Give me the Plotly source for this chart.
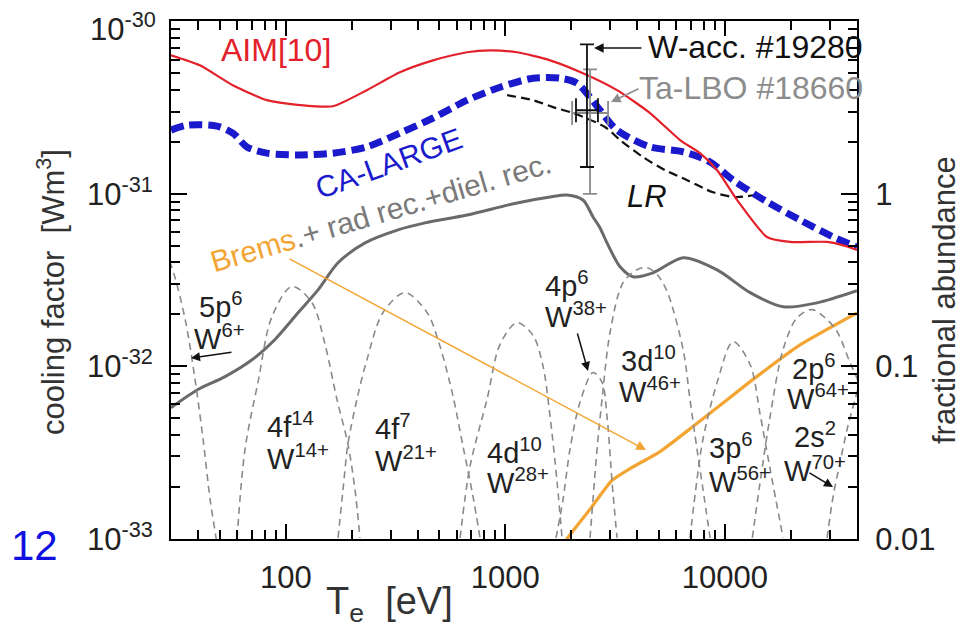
import numpy as np
import plotly.graph_objects as go

# ---------------- data (Te in eV, cooling factor in W m^3, abundances as fractions) -------------
aim_te = [30, 40.6, 57.4, 82, 116, 164, 234, 331, 469, 670, 852, 1131, 1599, 2259, 3228,
          4562, 6252, 7709, 9226, 11380, 15560, 19820, 29240, 35320, 40000]
aim_lz = [6.36e-31, 5.56e-31, 4.26e-31, 3.49e-31, 3.27e-31, 3.22e-31, 3.99e-31, 5.07e-31,
          5.94e-31, 6.62e-31, 6.79e-31, 6.62e-31, 5.94e-31, 5.00e-31, 3.99e-31, 2.94e-31,
          2.05e-31, 1.72e-31, 1.37e-31, 9.2e-32, 5.62e-32, 5.26e-32, 5.26e-32, 4.99e-32, 4.73e-32]

ca_te = [30, 35.5, 48.6, 57.4, 66.5, 82, 116, 164, 234, 331, 469, 670, 946, 1337, 1774, 2121,
         2432, 2702, 3228, 4562, 6457, 8570, 10910, 15560, 21980, 31140, 40000]
ca_lz = [2.34e-31, 2.50e-31, 2.47e-31, 2.25e-31, 1.87e-31, 1.72e-31, 1.68e-31, 1.72e-31,
         1.87e-31, 2.25e-31, 2.75e-31, 3.49e-31, 4.15e-31, 4.68e-31, 4.68e-31, 4.38e-31,
         3.63e-31, 3.05e-31, 2.34e-31, 1.87e-31, 1.75e-31, 1.53e-31, 1.20e-31, 8.98e-32,
         7.05e-32, 5.62e-32, 4.92e-32]

lr_te = [1019, 1337, 1648, 2034, 2845, 3333, 4246, 5347, 6734, 8838, 11140, 13740]
lr_lz = [3.73e-31, 3.49e-31, 3.18e-31, 2.94e-31, 2.44e-31, 2.05e-31, 1.63e-31, 1.37e-31,
         1.20e-31, 1.02e-31, 9.57e-32, 9.84e-32]

tot_te = [30, 39.8, 52.9, 70.2, 89.3, 113.7, 140.3, 173, 229.6, 324.6, 430.5, 670, 1131, 1599,
          1911, 2259, 2510, 2702, 2906, 3333, 3818, 4713, 6457, 9226, 13040, 18420, 26300, 40000]
tot_lz = [5.75e-33, 7.33e-33, 8.71e-33, 1.09e-32, 1.43e-32, 2.04e-32, 2.77e-32, 3.98e-32,
          5.19e-32, 6.18e-32, 6.78e-32, 7.53e-32, 8.85e-32, 9.57e-32, 9.84e-32, 9.20e-32,
          7.34e-32, 6.34e-32, 5.19e-32, 3.77e-32, 3.30e-32, 3.48e-32, 4.26e-32, 3.62e-32,
          2.67e-32, 2.21e-32, 2.33e-32, 2.74e-32]

brems_te = [1832, 1911, 2432, 3064, 3700, 5070, 7160, 13040, 22000, 40000]
brems_lz = [9.16e-34, 1.0e-33, 1.48e-33, 2.18e-33, 2.55e-33, 3.20e-33, 4.47e-33, 8.14e-33,
            1.33e-32, 2.04e-32]

# fractional abundances of selected W ions
ions = {
    "W6+":  ([26.7, 30.3, 34.8, 38.6, 42.0, 45.2, 48.1, 50.1],
             [0.542, 0.373, 0.187, 0.084, 0.0377, 0.0169, 0.0101, 0.0067]),
    "W14+": ([60.0, 65.2, 74.7, 86.5, 106.7, 131.5, 150.9, 171.0, 191.9, 206.5, 217.8],
             [0.0101, 0.033, 0.0806, 0.194, 0.290, 0.234, 0.134, 0.0643, 0.0353, 0.0194, 0.0101]),
    "W21+": ([173.0, 182.4, 191.9, 210.9, 234.4, 277.3, 349.3, 439.7, 504.5, 577.9, 641.5, 712.4, 767.0],
             [0.0101, 0.0194, 0.0353, 0.0643, 0.1095, 0.205, 0.267, 0.205, 0.130, 0.0669, 0.0344, 0.0176, 0.0101]),
    "W28+": ([622.3, 690.6, 825.6, 946.4, 1131, 1337, 1486, 1599, 1721, 1813],
             [0.0101, 0.0263, 0.0643, 0.134, 0.179, 0.151, 0.0997, 0.0512, 0.0213, 0.0101]),
    "W38+": ([1702, 1832, 1971, 2188, 2510, 2759, 2906, 3064, 3228],
             [0.0101, 0.0169, 0.033, 0.0617, 0.092, 0.0806, 0.0512, 0.0213, 0.0101]),
    "W46+": ([2432, 2618, 2759, 3000, 3437, 3981, 4424, 4913, 5458, 6457, 6936, 7470, 7950, 8570],
             [0.0101, 0.033, 0.0643, 0.157, 0.305, 0.363, 0.373, 0.340, 0.271, 0.125, 0.0643, 0.033, 0.0194, 0.0101]),
    "W56+": ([6936, 7470, 7950, 9226, 10910, 13040, 14480, 16080, 18420],
             [0.0101, 0.0221, 0.0377, 0.0806, 0.139, 0.102, 0.0526, 0.0253, 0.0101]),
    "W64+": ([13340, 14480, 16080, 18420, 21330, 24960, 28620, 32450, 37180, 42170],
             [0.0101, 0.0213, 0.0512, 0.125, 0.191, 0.213, 0.191, 0.159, 0.105, 0.0734]),
    "W70+": ([29240, 31140, 33500, 36060, 39200, 42170],
             [0.0101, 0.0176, 0.0277, 0.0431, 0.0643, 0.0897]),
}

# experimental points
wacc_te, wacc_te_lo, wacc_te_hi = [2355], [2099], [2642]
wacc_lz, wacc_lz_lo, wacc_lz_hi = [3.05e-31], [1.43e-31], [7.36e-31]
ta_te, ta_te_lo, ta_te_hi = [2432], [2015], [2938]
ta_lz, ta_lz_lo, ta_lz_hi = [2.94e-31], [9.98e-32], [5.27e-31]

# tick labels (the top 10^-30 label is drawn a little lower, as in the original)
x_ticks = [100, 1000, 10000]
x_ticktext = ["100", "1000", "10000"]
y_ticks = [1e-33, 1e-32, 1e-31, 1e-30]
y_ticktext = ["10<sup>-33</sup>", "10<sup>-32</sup>", "10<sup>-31</sup>", ""]
y_top_label = "10<sup>-30</sup>"
y2_ticks = [0.01, 0.1, 1]
y2_ticktext = ["0.01", "0.1", "1"]

# ---------------- figure ----------------
FONT = "Liberation Sans, Arial, Helvetica, sans-serif"
OFF = 8                      # page body margin of the html page
W, H = 971 - OFF, 635 - OFF
ML, MT = 171 - OFF, 21 - OFF
PW, PH = 686, 518
MR, MB = W - ML - PW, H - MT - PH
EPS = 0.002                  # tiny range padding so end ticks are kept


def P(xp, yp):
    """screen pixel position -> paper coordinates (for labels only)"""
    return (xp - OFF - ML) / PW, (MT + PH - (yp - OFF)) / PH


fig = go.Figure()

# ion abundance curves (right axis)
for name, (te, fr) in ions.items():
    fig.add_trace(go.Scatter(x=te, y=fr, yaxis="y2", mode="lines",
                             line=dict(color="#8a8a8a", width=1.6, dash="7px,5px",
                                       shape="spline", smoothing=0.9),
                             showlegend=False, hoverinfo="skip"))

fig.add_trace(go.Scatter(x=brems_te, y=brems_lz, mode="lines",
                         line=dict(color="#f2a533", width=3.2, shape="spline", smoothing=0.5),
                         showlegend=False))
fig.add_trace(go.Scatter(x=tot_te, y=tot_lz, mode="lines",
                         line=dict(color="#6a6a6a", width=3, shape="spline", smoothing=0.8),
                         showlegend=False))
fig.add_trace(go.Scatter(x=lr_te, y=lr_lz, mode="lines",
                         line=dict(color="#111111", width=2.2, dash="9px,5px",
                                   shape="spline", smoothing=0.8),
                         showlegend=False))
fig.add_trace(go.Scatter(x=ca_te, y=ca_lz, mode="lines",
                         line=dict(color="#1a1acc", width=7, dash="13px,6px",
                                   shape="spline", smoothing=0.8),
                         showlegend=False))
fig.add_trace(go.Scatter(x=aim_te, y=aim_lz, mode="lines",
                         line=dict(color="#e3212b", width=2.2, shape="spline", smoothing=0.6),
                         showlegend=False))

# error bars
for te, lo_t, hi_t, lz, lo_l, hi_l, col in [
        (ta_te, ta_te_lo, ta_te_hi, ta_lz, ta_lz_lo, ta_lz_hi, "#8c8c8c"),
        (wacc_te, wacc_te_lo, wacc_te_hi, wacc_lz, wacc_lz_lo, wacc_lz_hi, "#111111")]:
    fig.add_trace(go.Scatter(
        x=te, y=lz, mode="markers", marker=dict(size=1, color=col),
        error_y=dict(type="data", symmetric=False,
                     array=[h - v for h, v in zip(hi_l, lz)],
                     arrayminus=[v - l for l, v in zip(lo_l, lz)],
                     color=col, thickness=1.8, width=7),
        error_x=dict(type="data", symmetric=False,
                     array=[h - v for h, v in zip(hi_t, te)],
                     arrayminus=[v - l for l, v in zip(lo_t, te)],
                     color=col, thickness=1.8, width=12),
        showlegend=False))

ann = []


def label(text, xp, yp, color="#222222", size=30, xanchor="left", angle=0, italic=False,
          yanchor="middle"):
    x, y = P(xp, yp)
    if italic:
        text = "<i>" + text + "</i>"
    ann.append(dict(text=text, x=x, y=y, xref="paper", yref="paper", showarrow=False,
                    xanchor=xanchor, yanchor=yanchor, textangle=angle,
                    font=dict(family=FONT, size=size, color=color)))


def arrow(tail, head, color="#111111", width=1.5, size=1.2, head_style=2):
    x, y = P(*head)
    ann.append(dict(text="", x=x, y=y, xref="paper", yref="paper", showarrow=True,
                    ax=tail[0] - head[0], ay=tail[1] - head[1], axref="pixel", ayref="pixel",
                    arrowhead=head_style, arrowsize=size, arrowwidth=width,
                    arrowcolor=color, standoff=0, startstandoff=0))


label("AIM[10]", 276, 50, color="#e3212b", size=32, xanchor="center")
label("CA-LARGE", 388, 163, color="#1a1acc", size=30, xanchor="center", angle=-20)
label('<span style="color:#f2a533">Brems</span>.+ rad rec.+diel. rec.', 380, 212,
      color="#7a7a7a", size=30, xanchor="center", angle=-16.5)
label("LR", 647, 196, color="#111111", size=31, xanchor="center", italic=True)
label("W-acc. #19280", 646, 47, color="#111111", size=32)
label("Ta-LBO #18660", 637, 88, color="#8c8c8c", size=32)

ion_lines = [
    ("5p<sup>6</sup>", 197, 305), ("W<sup>6+</sup>", 192, 337),
    ("4f<sup>14</sup>", 265, 425), ("W<sup>14+</sup>", 265, 457),
    ("4f<sup>7</sup>", 373, 427), ("W<sup>21+</sup>", 373, 459),
    ("4d<sup>10</sup>", 485, 451), ("W<sup>28+</sup>", 485, 481),
    ("4p<sup>6</sup>", 543, 284), ("W<sup>38+</sup>", 543, 315),
    ("3d<sup>10</sup>", 619, 359), ("W<sup>46+</sup>", 617, 390),
    ("3p<sup>6</sup>", 707, 446), ("W<sup>56+</sup>", 707, 480),
    ("2p<sup>6</sup>", 790, 367), ("W<sup>64+</sup>", 785, 397),
    ("2s<sup>2</sup>", 792, 435), ("W<sup>70+</sup>", 782, 469),
]
for t, xp, yp in ion_lines:
    label(t, xp, yp, size=29)

arrow((233, 352), (191, 358))
arrow((577, 332), (588, 371))
arrow((808, 472), (833, 487))
arrow((288, 258), (646, 450), color="#f2a533", width=1.5, size=1.3)
arrow((643, 48), (594, 48), width=1.6)
arrow((640, 88), (611, 102), color="#8c8c8c", width=1.6)

# top y tick label, axis titles and panel number
label(y_top_label, 158, 27, color="#222222", size=31, xanchor="right")
label("cooling factor\u00a0\u00a0[Wm<sup>3</sup>]", 51, 292, color="#333333", size=31,
      xanchor="center", angle=-90)
label("fractional abundance", 945, 300, color="#333333", size=31, xanchor="center", angle=-90)
label("T<sub>e</sub>\u00a0\u00a0[eV]", 389, 604, color="#333333", size=38, xanchor="center")
label("12", 9, 545, color="#1010e0", size=42)

tickfont = dict(family=FONT, size=31, color="#222222")
minor = dict(ticks="inside", ticklen=9, tickwidth=1.6, tickcolor="black", dtick="D1",
             showgrid=False)

fig.update_layout(
    width=W, height=H, margin=dict(l=ML, r=MR, t=MT, b=MB, autoexpand=False),
    paper_bgcolor="white", plot_bgcolor="white", showlegend=False,
    annotations=ann,
    xaxis=dict(type="log", range=[np.log10(30), np.log10(40000)],
               tickvals=x_ticks, ticktext=x_ticktext,
               ticks="inside", ticklen=15, tickwidth=2,
               tickcolor="black", showline=True, linewidth=2, linecolor="black",
               mirror="ticks", showgrid=False, zeroline=False, minor=minor,
               tickfont=tickfont, ticklabelstandoff=10),
    yaxis=dict(type="log", range=[-33 - EPS, -30 + EPS], tickvals=y_ticks, ticktext=y_ticktext,
               ticks="inside", ticklen=16, tickwidth=2, tickcolor="black",
               showline=True, linewidth=2, linecolor="black", showgrid=False,
               zeroline=False, minor=minor, tickfont=tickfont, ticklabelstandoff=10),
    yaxis2=dict(type="log", range=[-2 - EPS, 1 + EPS], overlaying="y", side="right",
                tickvals=y2_ticks, ticktext=y2_ticktext,
                ticks="inside", ticklen=16, tickwidth=2, tickcolor="black",
                showline=True, linewidth=2, linecolor="black", showgrid=False,
                zeroline=False, minor=minor, tickfont=tickfont, ticklabelstandoff=10),
)

fig.write_html("out.html")
